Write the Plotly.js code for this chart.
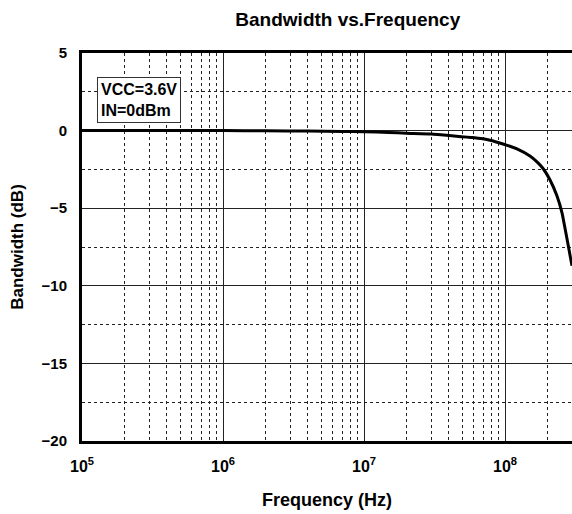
<!DOCTYPE html>
<html>
<head>
<meta charset="utf-8">
<script src="https://cdn.plot.ly/plotly-3.0.1.min.js"></script>
<style>html,body{margin:0;padding:0;background:#fff;}#chart{width:572px;height:514px;}</style>
</head>
<body>
<div id="chart"></div>
<script>
const freqHz = [1e5, 3e5, 1e6, 2e6, 4e6, 7e6, 1e7, 1.5e7, 2e7, 3e7, 4.2e7, 5.9e7, 7.83e7, 9.68e7, 1.216e8, 1.503e8, 1.686e8, 1.862e8, 2.087e8, 2.338e8, 2.537e8, 2.71e8, 2.845e8, 2.985e8];
const gainDb = [0, 0, 0, -0.01, -0.03, -0.05, -0.07, -0.12, -0.17, -0.22, -0.33, -0.45, -0.62, -0.86, -1.18, -1.64, -2.02, -2.44, -3.18, -4.21, -5.3, -6.65, -7.68, -8.71];
const yTickVals = [5, 0, -5, -10, -15, -20];
const xTickVals = [1e5, 1e6, 1e7, 1e8];
const xTickText = ['10<sup>5</sup>', '10<sup>6</sup>', '10<sup>7</sup>', '10<sup>8</sup>'];
const boxText = ['VCC=3.6V', 'IN=0dBm'];

const fontFam = '"Liberation Sans", Arial, sans-serif';
const dashGrid = '3px,3px';

Plotly.newPlot('chart', [{
  x: freqHz, y: gainDb, type: 'scatter', mode: 'lines',
  line: {color: '#000', width: 3, shape: 'spline', smoothing: 0.4},
  hoverinfo: 'skip'
}], {
  width: 572, height: 514,
  margin: {l: 82, r: 0, t: 53, b: 73},
  paper_bgcolor: '#fff', plot_bgcolor: '#fff',
  showlegend: false,
  title: {text: 'Bandwidth vs.Frequency', x: 0.608, xanchor: 'center', y: 0.963, yanchor: 'middle',
    font: {family: fontFam, size: 19, color: '#000', weight: 700}},
  xaxis: {
    type: 'log', range: [5, 5 + 490/141], autorange: false,
    tickvals: xTickVals, ticktext: xTickText,
    tickfont: {family: fontFam, size: 16, color: '#000', weight: 700},
    ticks: '', ticklabelstandoff: 9,
    showgrid: true, gridcolor: '#222', gridwidth: 1,
    minor: {dtick: 'D1', showgrid: true, gridcolor: '#222', gridwidth: 1, griddash: dashGrid, ticks: ''},
    showline: true, linecolor: '#000', linewidth: 3, mirror: true,
    zeroline: false,
    title: {text: 'Frequency (Hz)', standoff: 20, font: {family: fontFam, size: 18, color: '#000', weight: 700}}
  },
  yaxis: {
    range: [-20, 5], autorange: false,
    tickvals: yTickVals,
    tickfont: {family: fontFam, size: 15, color: '#000', weight: 700},
    ticks: '', ticklabelstandoff: 9,
    showgrid: true, gridcolor: '#222', gridwidth: 1,
    minor: {dtick: 2.5, tick0: 0, showgrid: true, gridcolor: '#222', gridwidth: 1, griddash: dashGrid, ticks: ''},
    showline: true, linecolor: '#000', linewidth: 3, mirror: false,
    zeroline: false,
    title: {text: 'Bandwidth (dB)', standoff: 14, font: {family: fontFam, size: 17, color: '#000', weight: 700}}
  },
  annotations: [{
    xref: 'paper', yref: 'paper', x: 0.031, y: 0.938, xanchor: 'left', yanchor: 'top',
    text: boxText.join('<br>'), align: 'left', showarrow: false,
    font: {family: fontFam, size: 16, color: '#000', weight: 700},
    bgcolor: '#fff', bordercolor: '#333', borderwidth: 1, borderpad: 3
  }]
}, {displayModeBar: false, staticPlot: true});
</script>
</body>
</html>
